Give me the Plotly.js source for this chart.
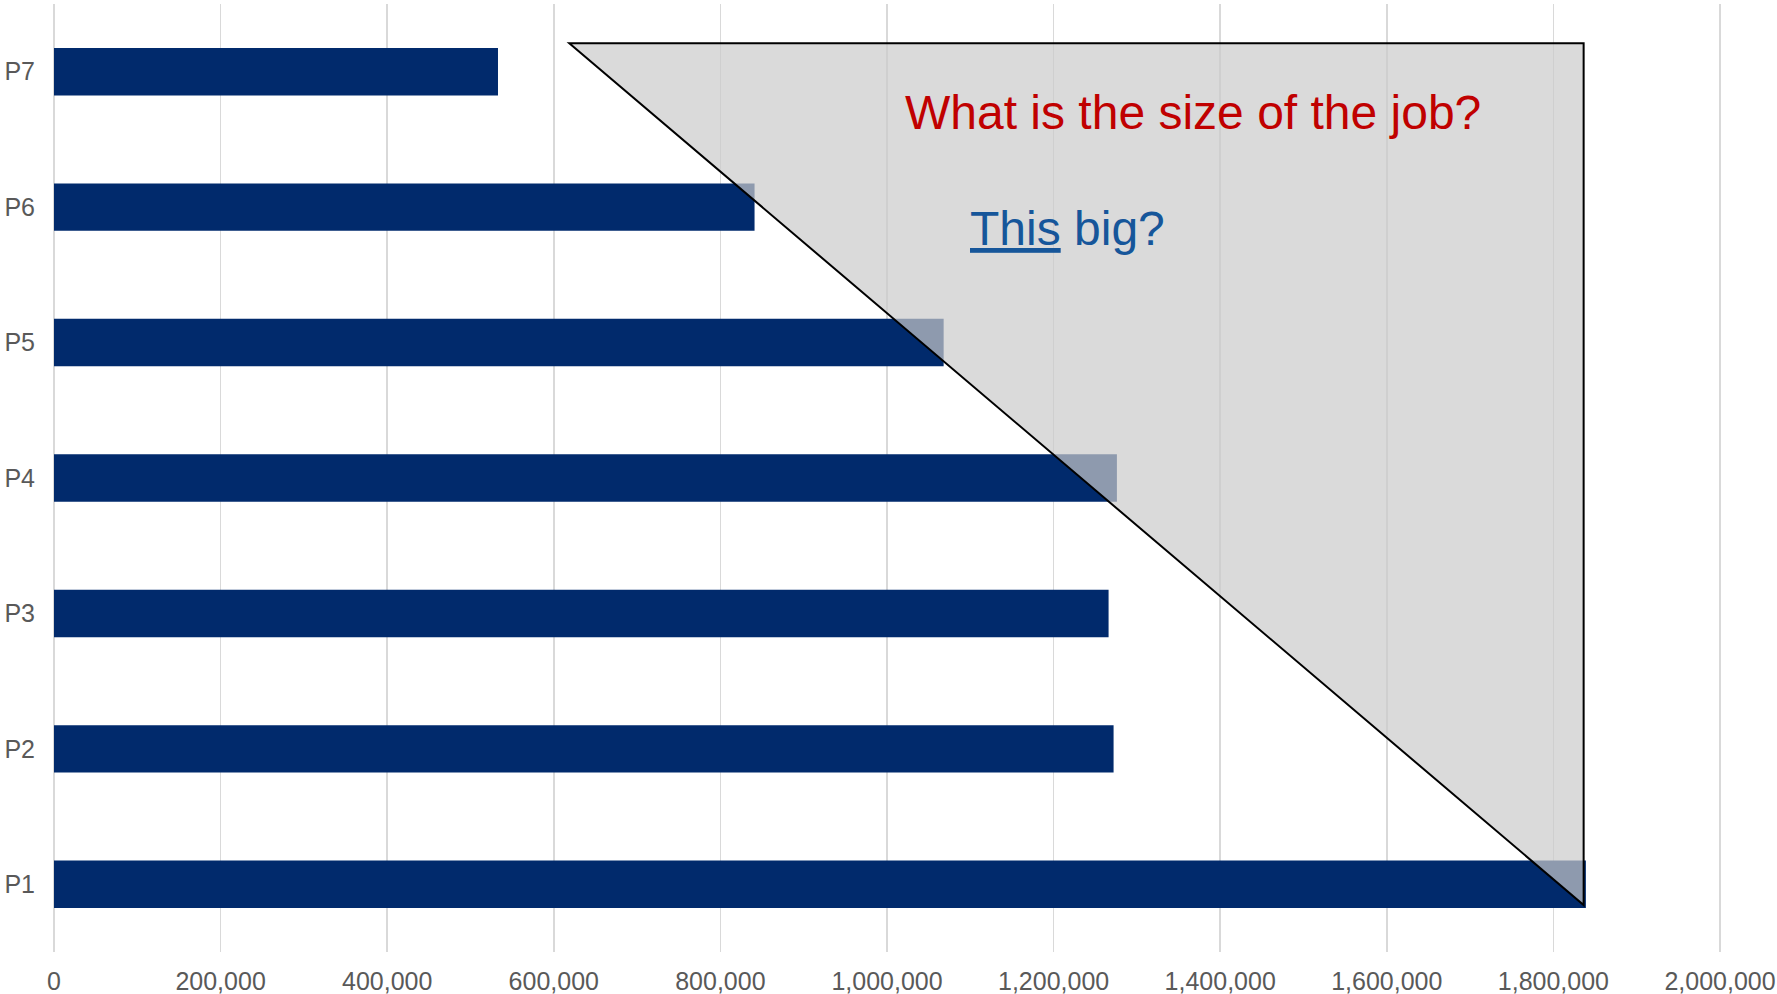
<!DOCTYPE html>
<html>
<head>
<meta charset="utf-8">
<script src="https://cdn.plot.ly/plotly-3.0.1.min.js"></script>
<style>
  html, body { margin: 0; padding: 0; background: #ffffff; }
  #chart { width: 1777px; height: 994px; }
</style>
</head>
<body>
<div id="chart"></div>
<script>
// ---- Data ----
const categories = ["P1", "P2", "P3", "P4", "P5", "P6", "P7"];
const values = [1839000, 1272000, 1266000, 1276000, 1068000, 841000, 533000];
const xTickValues = [0, 200000, 400000, 600000, 800000, 1000000, 1200000, 1400000, 1600000, 1800000, 2000000];
// triangle overlay vertices (x in data units, y in category index units)
const triangleX = [618600, 1836300, 1836300];
const triangleY = [6.21, 6.21, -0.153];
const questionText = "What is the size of the job?";
const answerText = "<u>This</u> big?";

// ---- Layout helpers ----
const W = 1777, H = 994;
const M = {l: 54, r: 53, t: 4, b: 42};
const plotW = W - M.l - M.r, plotH = H - M.t - M.b;
const px2paperX = px => (px - M.l) / plotW;
const px2paperY = py => 1 - (py - M.t) / plotH;

const trianglePath = triangleX.map((x, i) => (i === 0 ? "M" : "L") + x + "," + triangleY[i]).join(" ") + " Z";

const FONT = "Liberation Sans, Arial, sans-serif";

const trace = {
  type: "bar",
  orientation: "h",
  y: categories,
  x: values,
  marker: {color: "#012A6C", line: {width: 0}},
  hoverinfo: "skip"
};

const layout = {
  width: W,
  height: H,
  margin: M,
  paper_bgcolor: "#ffffff",
  plot_bgcolor: "#ffffff",
  showlegend: false,
  bargap: 0.65,
  font: {family: FONT, color: "#595959"},
  xaxis: {
    range: [0, 2004800],
    tickvals: xTickValues,
    tickformat: ",d",
    showgrid: true,
    gridcolor: "#D9D9D9",
    gridwidth: 1.6,
    zeroline: true,
    zerolinecolor: "#D9D9D9",
    zerolinewidth: 1.6,
    showline: false,
    ticks: "",
    tickfont: {size: 25, color: "#595959", family: FONT},
    ticklabelstandoff: 12,
    fixedrange: true
  },
  yaxis: {
    type: "category",
    categoryorder: "array",
    categoryarray: categories,
    range: [-0.5, 6.5],
    showgrid: false,
    zeroline: false,
    showline: false,
    ticks: "",
    tickfont: {size: 25, color: "#595959", family: FONT},
    ticklabelstandoff: 18,
    fixedrange: true
  },
  shapes: [{
    type: "path",
    xref: "x",
    yref: "y",
    path: trianglePath,
    fillcolor: "rgba(202,202,202,0.7)",
    line: {color: "#000000", width: 2},
    layer: "above"
  }],
  annotations: [
    {
      text: questionText,
      xref: "paper", yref: "paper",
      x: px2paperX(903), y: px2paperY(113),
      xanchor: "left", yanchor: "middle",
      showarrow: false,
      font: {size: 48, color: "#C00000", family: FONT}
    },
    {
      text: answerText,
      xref: "paper", yref: "paper",
      x: px2paperX(968), y: px2paperY(229),
      xanchor: "left", yanchor: "middle",
      showarrow: false,
      font: {size: 48, color: "#16569A", family: FONT}
    }
  ]
};

Plotly.newPlot("chart", [trace], layout, {displayModeBar: false, staticPlot: true});
</script>
</body>
</html>
